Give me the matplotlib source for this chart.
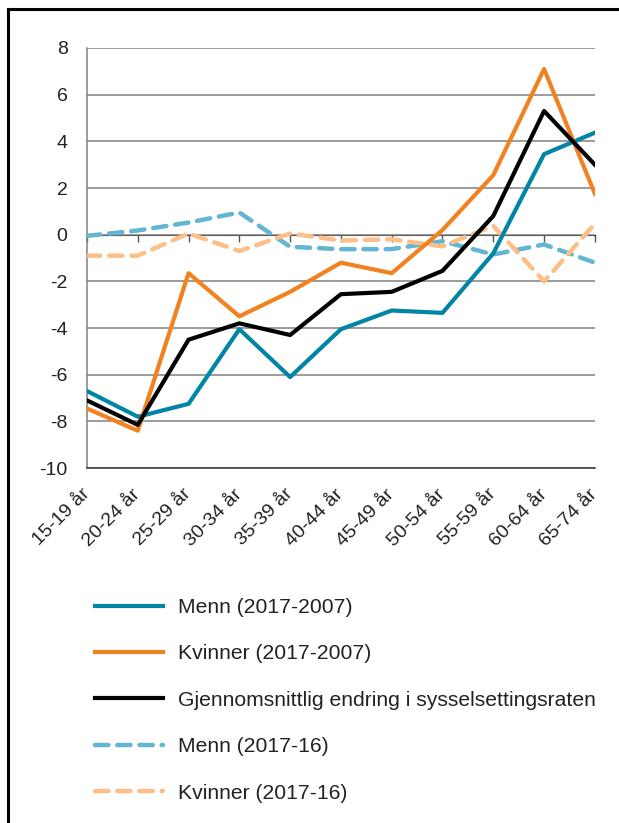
import numpy as np
import matplotlib
matplotlib.use("Agg")
import matplotlib.pyplot as plt
from matplotlib.lines import Line2D

plt.rcParams['font.family'] = ['Liberation Sans', 'DejaVu Sans']
plt.rcParams['axes.unicode_minus'] = False

# age groups on the x axis
groups = ["15-19 år", "20-24 år", "25-29 år", "30-34 år", "35-39 år", "40-44 år",
          "45-49 år", "50-54 år", "55-59 år", "60-64 år", "65-74 år"]

# change in employment rate, percentage points
menn_10y = [-6.7, -7.8, -7.25, -4.05, -6.1, -4.05, -3.25, -3.35, -0.8, 3.45, 4.37]
kvinner_10y = [-7.45, -8.4, -1.65, -3.5, -2.45, -1.2, -1.65, 0.2, 2.55, 7.1, 1.75]
snitt_10y = [-7.1, -8.15, -4.5, -3.8, -4.3, -2.55, -2.45, -1.55, 0.8, 5.3, 3.0]
menn_1y = [-0.05, 0.18, 0.52, 0.95, -0.52, -0.62, -0.62, -0.28, -0.85, -0.42, -1.2]
kvinner_1y = [-0.9, -0.9, 0.05, -0.7, 0.05, -0.25, -0.2, -0.5, 0.38, -2.0, 0.47]

labels = ["Menn (2017-2007)", "Kvinner (2017-2007)",
          "Gjennomsnittlig endring i sysselsettingsraten",
          "Menn (2017-16)", "Kvinner (2017-16)"]

x = np.arange(len(groups))

fig = plt.figure(figsize=(6.19, 8.23), dpi=100)
ax = fig.add_axes([0.1405, 0.4313, 0.8205, 0.5104])

ax.plot(x, menn_1y, color="#62b5d3", lw=3.2, ls=(0, (3, 2)), dash_capstyle="round",
        label=labels[3], zorder=3)
ax.plot(x, kvinner_1y, color="#fdbf87", lw=3.2, ls=(0, (3, 2)), dash_capstyle="round",
        label=labels[4], zorder=3)
ax.plot(x, menn_10y, color="#0085a6", lw=3, label=labels[0], zorder=4)
ax.plot(x, kvinner_10y, color="#f28220", lw=3, label=labels[1], zorder=4)
ax.plot(x, snitt_10y, color="black", lw=3, label=labels[2], zorder=5)

ax.set_xlim(0, 10)
ax.set_ylim(-10, 8)
ax.set_yticks(np.arange(-10, 9, 2))
ax.yaxis.grid(True, color="#808080", lw=1.1)
ax.set_axisbelow(True)
for s in ["top", "right"]:
    ax.spines[s].set_visible(False)
ax.spines["left"].set_color("#808080")
ax.spines["left"].set_linewidth(1.1)
ax.spines["bottom"].set_color("#333333")
ax.spines["bottom"].set_linewidth(1.1)

ax.set_xticks(x)
ax.set_xticklabels(groups, rotation=45, ha="right", va="center",
                   rotation_mode="anchor", fontsize=14, color="#222222")
ax.tick_params(axis="x", length=0, pad=17)
ax.tick_params(axis="y", length=0, pad=14, labelsize=14, labelcolor="#222222")

# category axis crossing at zero, ticks pointing up
sec = ax.secondary_xaxis(10 / 18)
sec.set_xticks(x)
sec.set_xticklabels([])
sec.tick_params(axis="x", direction="in", length=5, width=1, color="#555555")
sec.spines["bottom"].set_color("#555555")
sec.spines["bottom"].set_linewidth(1.1)

# legend below the plot
h, l = ax.get_legend_handles_labels()
order = [2, 3, 4, 0, 1]
fig.legend([h[i] for i in order], [l[i] for i in order], loc="upper left",
           bbox_to_anchor=(0.1535, 0.2734), frameon=False, fontsize=15.2,
           handlelength=3.2, handletextpad=0.72, labelspacing=1.3,
           labelcolor="#222222", borderaxespad=0, borderpad=0)

# frame lines of the original figure box
fig.add_artist(Line2D([0.0129, 0.0129], [0, 0.989], color="black", lw=2.2,
                      transform=fig.transFigure))
fig.add_artist(Line2D([0.0129, 1], [0.989, 0.989], color="black", lw=2.2,
                      transform=fig.transFigure))

fig.savefig("out.png", dpi=100)
